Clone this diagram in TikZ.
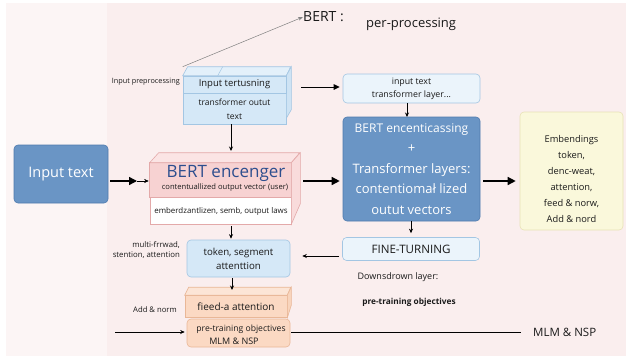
\documentclass[tikz,border=0pt]{standalone}
\usepackage{fontspec}
\setmainfont{Open Sans}
\usetikzlibrary{arrows.meta}
\definecolor{bgpink}{HTML}{FAEEEE}
\definecolor{bglight}{HTML}{FCF5F5}
\definecolor{lblue}{HTML}{D5E8F7}
\definecolor{lbluetop}{HTML}{E3F0FA}
\definecolor{lbluebd}{HTML}{A3C6E3}
\definecolor{vlblue}{HTML}{EBF4FB}
\definecolor{dblue}{HTML}{6A95C5}
\definecolor{dbluebd}{HTML}{4F7BAE}
\definecolor{ylw}{HTML}{FAF8DB}
\definecolor{ylwbd}{HTML}{E8E2B6}
\definecolor{pinkf}{HTML}{F7D2D2}
\definecolor{pinktop}{HTML}{FBE4E4}
\definecolor{pinkbd}{HTML}{E3A9A9}
\definecolor{orng}{HTML}{FBD9C3}
\definecolor{orngtop}{HTML}{FCE5D6}
\definecolor{orngbd}{HTML}{E9B797}
\definecolor{navy}{HTML}{2D4E8E}
\definecolor{txt}{HTML}{1A1A1A}
\begin{document}
\begin{tikzpicture}[x=1pt,y=-1pt,
  rbox/.style={draw, rounded corners=4pt, line width=0.6pt, align=center, inner sep=0pt},
  fbox/.style={draw, line width=0.6pt, inner sep=0pt},
  lbl/.style={text=txt, inner sep=0pt, align=center},
  bigarrow/.style={line width=1.4pt, -{Triangle[length=8pt,width=8pt]}},
  midarrow/.style={line width=1pt, -{Triangle[length=6pt,width=5.5pt]}},
  thinarrow/.style={line width=0.5pt, -{Stealth[length=4.5pt,width=4pt]}}
]
\useasboundingbox (0,0) rectangle (626,356);
\fill[white] (0,0) rectangle (626,356);
\fill[bgpink] (6,3) rectangle (626,356);
\fill[bglight] (6,3) rectangle (107,356);

% title
\node[lbl, font=\fontsize{14}{16}\selectfont, anchor=west] (bert) at (303,17) {BERT :};
\node[lbl, font=\fontsize{13}{15}\selectfont, anchor=west] (pre) at (366,24) {per-processing};

% top 3D box
\node[fbox, draw=lbluebd, fill=lblue, minimum width=103, minimum height=48] (tb) at (234.5,100) {};
\fill[lbluetop, draw=lbluebd, line width=0.6pt] (tb.north west) -- ++(5,-9) -- ++(103,0) -- (tb.north east) -- cycle;
\fill[lblue!85!lbluebd, draw=lbluebd, line width=0.6pt] (tb.north east) -- ++(5,-9) -- ++(0,43) -- ([yshift=6]tb.south east) -- cycle;
\draw[lbluebd, line width=0.5pt] ([xshift=35]tb.north west) -- ++(5,-9);
\node[fbox, draw=lbluebd, fill=lblue, minimum width=103, minimum height=17, anchor=north west,
  font=\fontsize{9.5}{11}\selectfont, text=txt] (tbs) at (tb.north west) {Input tertusning};
\node[lbl, font=\fontsize{8.5}{14}\selectfont] (tbt) at (234.5,109) {transformer outut\\text};
\coordinate (tbc) at ([yshift=9]tb.north west);
\draw[gray, line width=0.5pt, -{Stealth[length=5pt,width=3.5pt]}] (tbc) -- (bert.west);
\node[lbl, font=\fontsize{7.3}{8}\selectfont, anchor=east] (ipp) at (180,82) {Input preprocessing};

% input text / transformer layer box
\node[rbox, draw=lbluebd, fill=vlblue, minimum width=137, minimum height=29,
  font=\fontsize{8.8}{15}\selectfont, text=txt] (itb) at (411.5,88.5) {\raisebox{-2pt}{input text}\\transformer layer...};

% big blue box
\node[rbox, draw=dbluebd, fill=dblue, minimum width=137, minimum height=104, text=white,
  font=\fontsize{13}{20.5}\selectfont] (big) at (411.5,169)
  {{\fontsize{12}{20}\selectfont BERT encenticassing}\\+\\Transformer layers:\\contentiomał lized\\outut vectors};

% yellow box
\node[rbox, draw=ylwbd, fill=ylw, minimum width=103, minimum height=118] (yb) at (571.5,171) {};
\node[lbl, font=\fontsize{9.3}{16}\selectfont] (ybt) at (571.5,179) {Embendings\\token,\\denc-weat,\\attention,\\feed \& norw,\\Add \& nord};

% input text box
\node[rbox, draw=dbluebd, fill=dblue, minimum width=94, minimum height=58, text=white,
  font=\fontsize{14.5}{17}\selectfont] (inp) at (61,174) {Input text};

% BERT encenger 3D box
\node[fbox, draw=pinkbd, fill=white, minimum width=141, minimum height=61] (enc) at (220.5,193.5) {};
\fill[pinkf, draw=pinkbd, line width=0.6pt] (enc.north west) rectangle ([yshift=27]enc.south east);
\fill[pinktop, draw=pinkbd, line width=0.6pt] (enc.north west) -- ++(9,-10) -- ++(141,0) -- (enc.north east) -- cycle;
\fill[pinkf!80!white, draw=pinkbd, line width=0.6pt] (enc.north east) -- ++(9,-10) -- ++(0,51) -- (enc.south east) -- cycle;
\node[lbl, text=navy, font=\fontsize{17}{19}\selectfont] (enct) at (226,173) {BERT encenger};
\node[lbl, font=\fontsize{7.6}{8}\selectfont] (encs) at (225,188) {contentuallized output vector (user)};
\node[lbl, font=\fontsize{7.9}{8}\selectfont] (encw) at (221,211) {emberdzantlizen, semb, output laws};

% FINE-TURNING
\node[rbox, draw=lbluebd, fill=vlblue, minimum width=137, minimum height=23, text=txt,
  font=\fontsize{11.6}{13}\selectfont] (fine) at (411,249) {FINE-TURNING};
\node[lbl, font=\fontsize{9}{10}\selectfont] (down) at (398,277) {Downsdrown layer:};
\node[lbl, font=\bfseries\fontsize{8.3}{10}\selectfont] (pto) at (409,302) {pre-training objectives};

% token box
\node[rbox, draw=lbluebd, fill=lblue, minimum width=103, minimum height=37, text=txt,
  font=\fontsize{9.7}{14}\selectfont] (tok) at (238.5,258.5) {token, segment\\attenttion};
\node[lbl, font=\fontsize{7.8}{10}\selectfont, align=right, anchor=east] (mf) at (180,250) {multi-frrwad,\\stention, attention};

% fieed 3D box
\node[fbox, draw=orngbd, fill=orng, minimum width=102, minimum height=22, text=txt,
  font=\fontsize{10}{11}\selectfont] (fie) at (236,306.5) {fieed-a attention};
\fill[orngtop, draw=orngbd, line width=0.6pt] (fie.north west) -- ++(4,-8) -- ++(102,0) -- (fie.north east) -- cycle;
\fill[orng!85!orngbd, draw=orngbd, line width=0.6pt] (fie.north east) -- ++(4,-8) -- ++(0,18) -- (fie.south east) -- cycle;
\node[lbl, font=\fontsize{7.7}{9}\selectfont, anchor=east] (an) at (177,310) {Add \& norm};

% pre-training objectives box
\node[rbox, draw=orngbd, fill=orng, minimum width=103, minimum height=28] (ptb) at (238.5,333) {};
\node[lbl, font=\fontsize{8.6}{9}\selectfont] (ptb1) at (241,329) {pre-training objectives};
\node[lbl, font=\fontsize{9}{9}\selectfont] (ptb2) at (234,341) {MLM \& NSP};
\node[lbl, font=\fontsize{11.5}{12}\selectfont, anchor=west] (mlm) at (533,332) {MLM \& NSP};

% connectors
\coordinate (a1) at (301,87);
\draw[midarrow] (a1) -- ([xshift=-3]itb.west |- a1);
\draw[thinarrow, line width=0.8pt] (407,103) -- (407,117);
\draw[thinarrow, line width=0.8pt] (tb.south -| 231,0) -- (231,151);
\coordinate (m1) at (137,181);
\draw[bigarrow] ([xshift=2,yshift=-7]inp.east) -- (m1);
\draw[thinarrow] (m1) -- ([xshift=-1]enc.west |- m1);
\draw[bigarrow] (303,181) -- ([xshift=-3]big.west |- 0,181);
\draw[bigarrow] ([xshift=3]big.east |- 0,181) -- ([xshift=-4]yb.west |- 0,181);
\draw[thinarrow, line width=0.8pt] (411,221) -- ([yshift=4]fine.north -| 411,0);
\draw[thinarrow, line width=0.8pt] ([xshift=-3]fine.west |- 0,256) -- ([xshift=12]tok.east |- 0,256);
\draw[thinarrow, line width=0.8pt] ([yshift=-2]enc.south -| 231,0) -- ([yshift=1]tok.north -| 231,0);
\draw[thinarrow, line width=0.8pt] ([yshift=-1]tok.south -| 232,0) -- (232,290);
\coordinate (lstart) at (115,332);
\coordinate (rend) at (521,332);
\draw[thinarrow, line width=0.7pt] (lstart) -- ([xshift=-2]ptb.west |- lstart);
\draw[line width=0.7pt] ([xshift=1]ptb.east |- rend) -- (rend);
\end{tikzpicture}
\end{document}
